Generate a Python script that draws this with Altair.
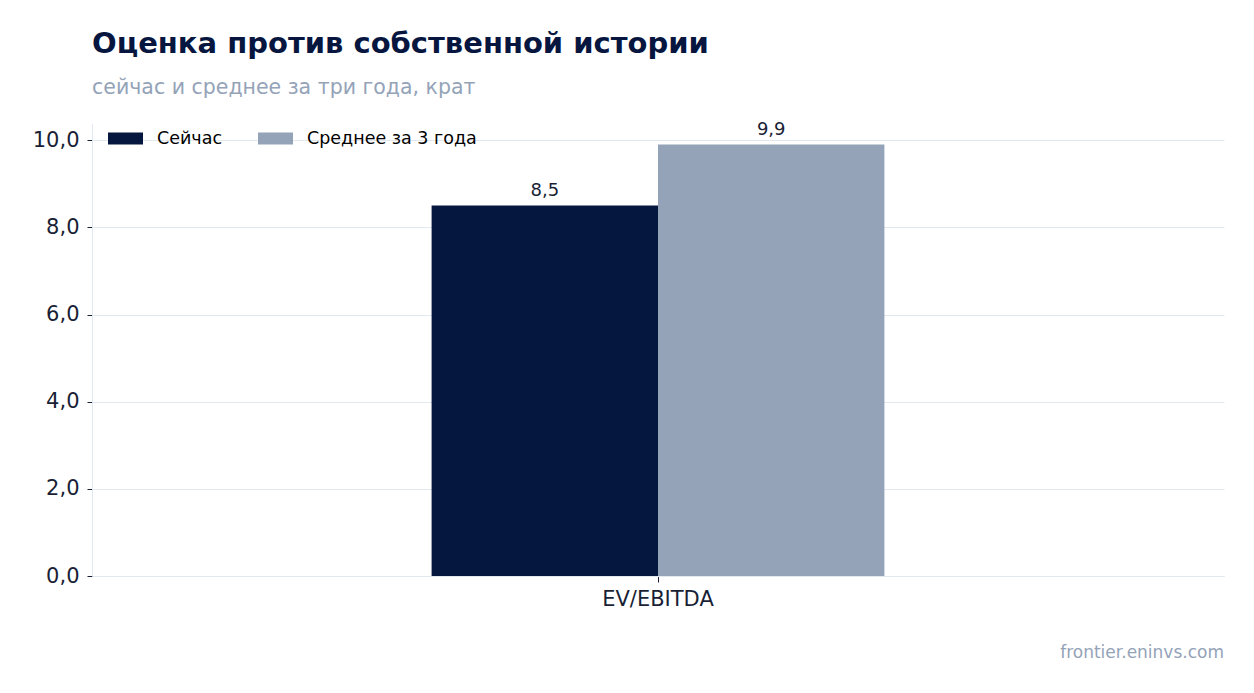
import altair as alt
import pandas as pd

##--data
metrics = ["EV/EBITDA"]
series = ["Сейчас", "Среднее за 3 года"]
values = [8.5, 9.9]
colors = ["#05163f", "#94a3b8"]
y_ticks = [0, 2, 4, 6, 8, 10]
footer = ["frontier.eninvs.com"]

df = pd.DataFrame({"metric": metrics * len(series), "series": series, "value": values})
df_footer = pd.DataFrame({"txt": footer})

FONT = "DejaVu Sans"
W, H = 1132, 453
rect = "M-1,-0.343H1V0.343H-1Z"

x_enc = alt.X("metric:N", title=None,
              scale=alt.Scale(paddingInner=0, paddingOuter=0.75),
              axis=alt.Axis(labelAngle=0, labelFontSize=21, labelColor="#1a1f36",
                            labelPadding=6, tickSize=6, tickColor="#1a1f36",
                            domainColor="#e2e8f0", grid=False))
xo_enc = alt.XOffset("series:N", sort=series,
                     scale=alt.Scale(paddingInner=0, paddingOuter=0))
y_enc = alt.Y("value:Q", title=None,
              scale=alt.Scale(domain=[0, 10.395], nice=False, zero=True),
              axis=alt.Axis(values=y_ticks, labelFontSize=21, labelColor="#1a1f36",
                            labelExpr="replace(format(datum.value, '.1f'), '.', ',')",
                            labelPadding=8, tickSize=5, tickColor="#1a1f36",
                            grid=True, gridColor="#e2e8f0", domainColor="#e2e8f0"))

bars = alt.Chart(df).mark_bar().encode(
    x_enc, xo_enc, y_enc,
    color=alt.Color("series:N", sort=series,
                    scale=alt.Scale(domain=series, range=colors),
                    legend=alt.Legend(title=None, orient="none", legendX=16, legendY=-2,
                                      direction="horizontal", symbolType=rect,
                                      symbolSize=1225, symbolStrokeWidth=0,
                                      labelFontSize=17.5, labelColor="#000000",
                                      labelFont=FONT, labelOffset=14, columnPadding=35,
                                      labelLimit=400)))

labels = alt.Chart(df).transform_calculate(
    lbl="replace(format(datum.value, '.1f'), '.', ',')"
).mark_text(fontSize=18, color="#1a1f36", baseline="alphabetic", dy=-10, font=FONT).encode(
    x_enc, xo_enc, y_enc, text="lbl:N")

foot = alt.Chart(df_footer).mark_text(
    fontSize=17, color="#94a3b8", align="right", baseline="alphabetic", font=FONT
).encode(x=alt.value(W), y=alt.value(535), text="txt:N")

chart = alt.layer(bars, labels, foot).properties(
    width=W, height=H,
    autosize=alt.AutoSizeParams(type="none"),
    padding={"left": 84, "top": 115, "right": 22, "bottom": 109},
    title=alt.TitleParams("Оценка против собственной истории",
                          subtitle="сейчас и среднее за три года, крат",
                          anchor="start", frame="group", offset=22,
                          font=FONT, fontSize=29, fontWeight="bold", color="#06163f",
                          subtitleFont=FONT, subtitleFontSize=20.5, subtitleColor="#94a3b8",
                          subtitlePadding=19)
).configure_view(stroke=None).configure_axis(labelFont=FONT)

chart.save("out.html", embed_options={"renderer": "svg", "actions": False})
